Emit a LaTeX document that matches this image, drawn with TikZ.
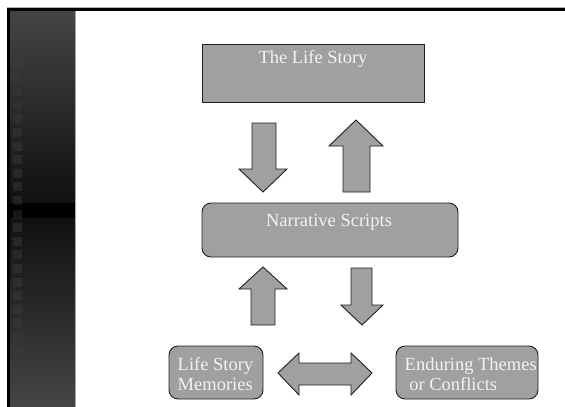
\documentclass[tikz,border=0pt]{standalone}
\usepackage{fontspec}
\setmainfont{Liberation Serif}
\definecolor{boxgray}{HTML}{A0A0A0}
\definecolor{edge}{HTML}{202020}
\definecolor{txtc}{HTML}{F2F2F2}
\definecolor{sidetop}{HTML}{454545}
\definecolor{sidemid}{HTML}{101010}
\tikzset{
  blk/.style={fill=boxgray, draw=edge, line width=0.9pt, line join=miter},
  box/.style={blk, rectangle, inner sep=0pt},
  rbox/.style={blk, rectangle, rounded corners=9pt, inner sep=0pt},
  txt/.style={text=txtc, font=\fontsize{18.5}{20}\selectfont, inner sep=0pt},
}
\begin{document}
\begin{tikzpicture}[x=1pt,y=-1pt]
\useasboundingbox (0,0) rectangle (565,407);
\fill[white] (0,0) rectangle (565,407);
% sidebar
\shade[top color=sidetop, bottom color=sidemid] (10,10) rectangle (75,203);
\fill[black] (10,203) rectangle (75,218);
\shade[top color=sidemid, bottom color=sidetop] (10,218) rectangle (75,407);
\foreach \i in {0,...,21} {
  \pgfmathsetmacro{\yy}{60+13.6*\i}
  \pgfmathsetmacro{\op}{max(0.02,0.09*(1-abs(\yy-210)/170))}
  \fill[white, opacity=\op] (13,\yy) rectangle (22,\yy+9);
}
\draw[gray!70, line width=0.6pt] (75.3,10) -- (75.3,407);
% frame
\fill[black] (7,8) rectangle (565,10.5);
\fill[black] (7,8) rectangle (10,407);
\draw[gray!60, line width=0.6pt] (7,7.3) -- (565,7.3);

% boxes
\node[box, minimum width=222pt, minimum height=58pt] (life) at (313,73) {};
\node[txt] (lifet) at (313,59) {The Life Story};
\node[rbox, minimum width=256pt, minimum height=54pt] (narr) at (330,230) {};
\node[txt] (narrt) at (329,222) {Narrative Scripts};
\node[rbox, minimum width=94pt, minimum height=53pt] (mem) at (216,372.5) {};
\node[txt, anchor=west, align=left] (memt) at (177.5,374) {Life Story\\Memories};
\node[rbox, minimum width=142pt, minimum height=53pt] (end) at (467,372.5) {};
\node[txt, anchor=west, align=left] (endt) at (404.5,374) {Enduring Themes\\\ or Conflicts};

% block arrows
\draw[blk] (252,123) -- (276,123) -- (276,169) -- (287,169) -- (263,192) -- (239,169) -- (252,169) -- cycle;
\draw[blk] (343,192) -- (370,192) -- (370,146) -- (383,146) -- (356,120) -- (329,146) -- (343,146) -- cycle;
\draw[blk] (251,325) -- (275,325) -- (275,289) -- (287,289) -- (263,267) -- (239,289) -- (251,289) -- cycle;
\draw[blk] (351,268) -- (372,268) -- (372,305) -- (383,305) -- (362,325) -- (341,305) -- (351,305) -- cycle;
\draw[blk] (278,373) -- (299,353) -- (299,363) -- (351,363) -- (351,353) -- (372,373) -- (351,395) -- (351,385) -- (299,385) -- (299,395) -- cycle;
\end{tikzpicture}
\end{document}
